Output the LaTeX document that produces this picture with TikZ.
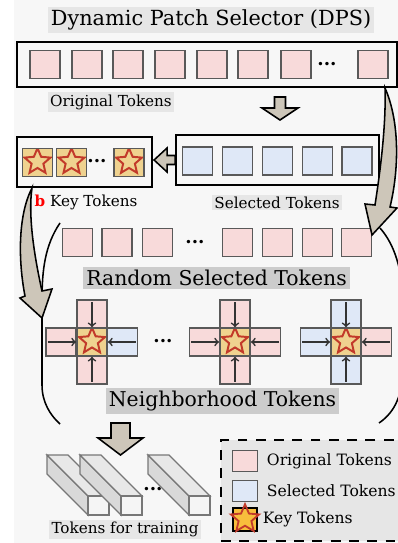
\documentclass[tikz,border=0pt]{standalone}
\usepackage{fontspec}
\setmainfont{DejaVu Serif}
\usetikzlibrary{shapes,arrows}
\definecolor{bgc}{HTML}{F7F7F7}
\definecolor{lblc}{HTML}{E6E6E6}
\definecolor{lbld}{HTML}{CCCCCC}
\definecolor{pinkc}{HTML}{F8DADA}
\definecolor{bluec}{HTML}{DFE8F7}
\definecolor{keyc}{HTML}{EFD28F}
\definecolor{keyl}{HTML}{F8BE3C}
\definecolor{starc}{HTML}{C23A2A}
\definecolor{tokd}{HTML}{595959}
\definecolor{arrc}{HTML}{CDC6B9}
\definecolor{narrc}{HTML}{333333}
\definecolor{bard}{HTML}{777777}
\tikzstyle{box} = [rectangle, draw=black, line width=1.3pt, fill=bgc]
\tikzstyle{tok} = [rectangle, minimum width=0.76cm, minimum height=0.7cm, draw=tokd, line width=1.1pt, inner sep=0pt]
\tikzstyle{ot} = [tok, fill=pinkc]
\tikzstyle{st} = [tok, fill=bluec]
\tikzstyle{kt} = [tok, fill=keyc, path picture={\node[star, star points=5, star point ratio=2.2, draw=starc, line width=1.4pt, minimum size=0.68cm, inner sep=0pt] at ([yshift=0.5pt]path picture bounding box.center) {};}]
\tikzstyle{lbl} = [fill=lblc, inner sep=1.5pt, font=\fontsize{10.8}{12}\selectfont]
\tikzstyle{biglbl} = [fill=lbld, inner sep=2pt, font=\fontsize{14.5}{16}\selectfont]
\tikzstyle{dts} = [inner sep=0pt, font=\bfseries\fontsize{13}{13}\selectfont]
\tikzstyle{blk} = [draw=black, line width=1.1pt, fill=arrc]
\tikzstyle{narr} = [->, line width=1.2pt, draw=narrc, shorten <=2pt]
\tikzstyle{barf} = [draw=bard, line width=1pt]

\begin{document}
\begin{tikzpicture}[x=0.025cm, y=-0.025cm]
		\useasboundingbox (0,0) rectangle (398,543);
		\fill[bgc] (14,0) rectangle (398,543);
		
		% top: original tokens
		\node[lbl, font=\fontsize{14.8}{16}\selectfont, inner sep=2pt](title) at (211,20){Dynamic Patch Selector (DPS)};
		\node[box, minimum width=9.5cm, minimum height=1.125cm](orig) at (207,64.5){};
		\node[ot](o1) at (45,64.5){};
		\node[ot](o2) at (87,64.5){};
		\node[ot](o3) at (128,64.5){};
		\node[ot](o4) at (170,64.5){};
		\node[ot](o5) at (212,64.5){};
		\node[ot](o6) at (253,64.5){};
		\node[ot](o7) at (296,64.5){};
		\node[dts](od) at (327,64){...};
		\node[ot](o8) at (373,64.5){};
		\node[lbl](origlbl) at (111,102){Original Tokens};
		
		% selected and key tokens
		\node[box, minimum width=5.075cm, minimum height=1.25cm](sel) at (277.5,160){};
		\node[st](s1) at (197.5,161){};
		\node[st](s2) at (237.5,161){};
		\node[st](s3) at (277.5,161){};
		\node[st](s4) at (317.5,161){};
		\node[st](s5) at (357,161){};
		\node[lbl](sellbl) at (277,202.5){Selected Tokens};
		\node[box, minimum width=3.375cm, minimum height=1.25cm](keybox) at (84.5,162){};
		\node[kt](k1) at (37.5,162.5){};
		\node[kt](k2) at (71.5,162.5){};
		\node[dts](kd) at (97,161){...};
		\node[kt](k3) at (129,162.5){};
		\node[font=\fontsize{10.8}{12}\selectfont](keylbl) at (86,202.5){\textcolor{red}{\textbf{b}} Key Tokens};
		
		% bracket round the middle part
		\draw[line width=1.1pt] (60,223) .. controls (45,245) and (42,270) .. (42,300) -- (42,385) .. controls (42,402) and (50,415) .. (60,424);
		\draw[line width=1.1pt] (380,228) .. controls (395,245) and (402,270) .. (403,300) -- (403,370) .. controls (402,400) and (392,414) .. (379,423);
		
		% random selected tokens
		\node[ot](r1) at (77.5,242.5){};
		\node[ot](r2) at (117,242.5){};
		\node[ot](r3) at (157.5,242.5){};
		\node[dts](rd) at (195,242){...};
		\node[ot](r4) at (237.5,242.5){};
		\node[ot](r5) at (277.5,242.5){};
		\node[ot](r6) at (317.5,242.5){};
		\node[ot](r7) at (356.5,242.5){};
		\node[biglbl](randlbl) at (216.5,278){Random Selected Tokens};
		
		% neighborhood crosses
		\node[ot](c1l) at (61,342){};
		\node[st](c1r) at (122.5,342){};
		\node[ot](c1t) at (92,314){};
		\node[ot](c1b) at (92,370){};
		\node[kt](c1) at (92,342){};
		\node[dts](cd) at (163,341){...};
		\node[ot](c2l) at (204.5,342){};
		\node[ot](c2r) at (265.5,342){};
		\node[ot](c2t) at (235,314){};
		\node[ot](c2b) at (235,370){};
		\node[kt](c2) at (235,342){};
		\node[st](c3l) at (315.5,342){};
		\node[ot](c3r) at (376.5,342){};
		\node[st](c3t) at (346,314){};
		\node[st](c3b) at (346,370){};
		\node[kt](c3) at (346,342){};
		\draw[narr](c1l.west)--(c1.west);
		\draw[narr](c1r.east)--(c1.east);
		\draw[narr](c1t.north)--(c1.north);
		\draw[narr](c1b.south)--(c1.south);
		\draw[narr](c2l.west)--(c2.west);
		\draw[narr](c2r.east)--(c2.east);
		\draw[narr](c2t.north)--(c2.north);
		\draw[narr](c2b.south)--(c2.south);
		\draw[narr](c3l.west)--(c3.west);
		\draw[narr](c3r.east)--(c3.east);
		\draw[narr](c3t.north)--(c3.north);
		\draw[narr](c3b.south)--(c3.south);
		\node[biglbl](neiglbl) at (222.5,401){Neighborhood Tokens};
		
		% tokens for training
		\filldraw[barf, fill=black!15] (88,496) -- (88,515) -- (47,474) -- (47,455) -- cycle;
		\filldraw[barf, fill=black!9] (88,496) -- (109,496) -- (68,455) -- (47,455) -- cycle;
		\filldraw[barf, fill=black!4] (88,496) rectangle (109,515);
		\filldraw[barf, fill=black!15] (121,496) -- (121,515) -- (80,474) -- (80,455) -- cycle;
		\filldraw[barf, fill=black!9] (121,496) -- (142,496) -- (101,455) -- (80,455) -- cycle;
		\filldraw[barf, fill=black!4] (121,496) rectangle (142,515);
		\node[dts](td) at (153,489){...};
		\filldraw[barf, fill=black!15] (189,496) -- (189,515) -- (148,474) -- (148,455) -- cycle;
		\filldraw[barf, fill=black!9] (189,496) -- (210,496) -- (169,455) -- (148,455) -- cycle;
		\filldraw[barf, fill=black!4] (189,496) rectangle (210,515);
		\node[lbl](trainlbl) at (125,529.5){Tokens for training};
		
		% legend
		\node[draw=black, dashed, dash pattern=on 7pt off 6pt, line width=1.5pt, fill=lblc, minimum width=4.55cm, minimum height=2.525cm](leg) at (312,490.5){};
		\node[ot, minimum width=0.62cm, minimum height=0.53cm](lo) at (245,461){};
		\node[font=\fontsize{11.1}{12}\selectfont, anchor=west](lot) at (262,461){Original Tokens};
		\node[st, minimum width=0.62cm, minimum height=0.53cm](ls) at (245,491){};
		\node[font=\fontsize{11.1}{12}\selectfont, anchor=west](lst) at (262,491){Selected Tokens};
		\node[tok, fill=keyl, draw=black, line width=1.3pt, minimum width=0.62cm, minimum height=0.56cm](lk) at (245,519.5){};
		\node[star, star points=5, star point ratio=2.2, draw=starc, line width=1.3pt, minimum size=0.74cm, inner sep=0pt](lks) at (245,519){};
		\node[font=\fontsize{11.1}{12}\selectfont, anchor=west](lkt) at (258,519){Key Tokens};
		
		% block arrows
		\coordinate (d1) at (280,97);
		\draw[blk] (d1) ++(-5.5,0) -- ++(11,0) -- ++(0,11) -- ++(12.5,0) -- ++(-18,12) -- ++(-18,-12) -- ++(12.5,0) -- cycle;
		\draw[blk] (sel.west) ++(0,-4.5) -- ++(-8,0) -- ++(0,-7.5) -- ++(-13,12) -- ++(13,12) -- ++(0,-7.5) -- ++(8,0) -- cycle;
		\coordinate (d2) at (120.5,423);
		\draw[blk] (d2) ++(-9.5,0) -- ++(19,0) -- ++(0,15) -- ++(13,0) -- ++(-22.5,17) -- ++(-22.5,-17) -- ++(13,0) -- cycle;
		\draw[blk] (385,88) .. controls (400,122) and (399,170) .. (390,207) -- (397,208) -- (372,235) -- (365,204) -- (375,205) .. controls (382,160) and (386,120) .. (385,88) -- cycle;
		\draw[blk] (32,188) .. controls (18,215) and (18,260) .. (25,296) -- (20,298) -- (42,318) -- (52,289) -- (42,291) .. controls (34,255) and (28,215) .. (32,188) -- cycle;
	\end{tikzpicture}
\end{document}
